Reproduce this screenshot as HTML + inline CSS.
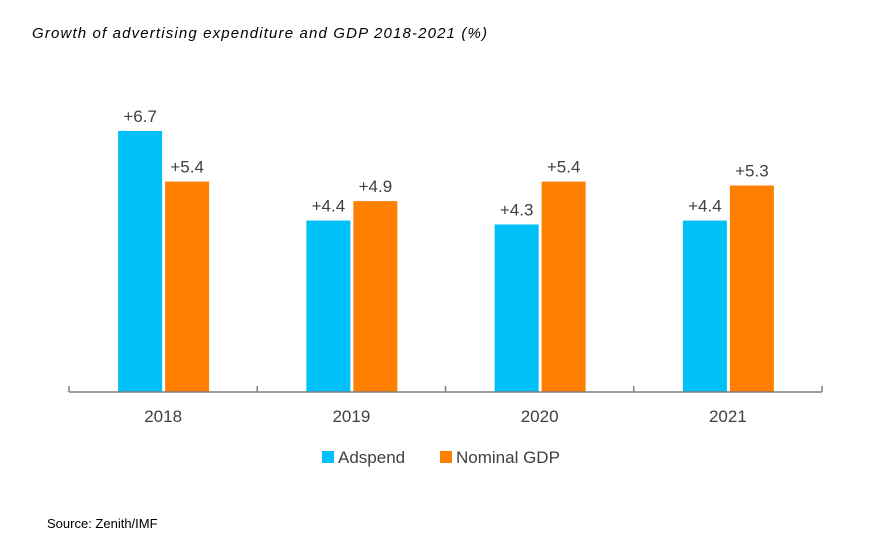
<!DOCTYPE html>
<html><head><meta charset="utf-8"><style>
body{margin:0;width:889px;height:551px;background:#fff;overflow:hidden;font-family:"Liberation Sans",sans-serif}
</style></head><body>
<svg width="889" height="551" xmlns="http://www.w3.org/2000/svg">
<text x="32" y="38" font-size="15" font-style="italic" fill="#000" textLength="455" lengthAdjust="spacing">Growth of advertising expenditure and GDP 2018-2021 (%)</text>
<g id="bars"></g>
<line x1="69" y1="392" x2="822" y2="392" stroke="#7f7f7f" stroke-width="1.5"/>
<g id="ticks"></g>
<rect x="322" y="451" width="12" height="12" fill="#00C0F8"/>
<text x="338" y="463" font-size="17" fill="#404040">Adspend</text>
<rect x="440" y="451" width="12" height="12" fill="#FF7F00"/>
<text x="456" y="463" font-size="17" fill="#404040">Nominal GDP</text>
<text x="47" y="528" font-size="13" fill="#000">Source: Zenith/IMF</text>
</svg>
<script>
const categories=["2018","2019","2020","2021"];
const adspend=[6.7,4.4,4.3,4.4];
const gdp=[5.4,4.9,5.4,5.3];
const NS="http://www.w3.org/2000/svg";
const x0=69,x1=822,base=392,scale=38.96;
const bw=(x1-x0)/categories.length;
const y=v=>base-v*scale;
const g=document.getElementById("bars"),tk=document.getElementById("ticks");
function mk(tag,attrs,parent){const e=document.createElementNS(NS,tag);for(const k in attrs)e.setAttribute(k,attrs[k]);parent.appendChild(e);return e;}
for(let i=0;i<=categories.length;i++){
  const t=mk("line",{x1:x0+i*bw,x2:x0+i*bw,y1:386,y2:392,stroke:"#7f7f7f","stroke-width":1.5},tk);
  
  
}
categories.forEach((c,i)=>{
  const cx=x0+bw*(i+0.5);
  [[adspend[i],cx-45,"#00C0F8","adspend"],[gdp[i],cx+2,"#FF7F00","gdp"]].forEach(([v,bx,col,nm])=>{
    const r=mk("rect",{x:bx,y:y(v),width:44,height:base-y(v),fill:col},g);
    
    
    const l=mk("text",{x:bx+22,y:y(v)-9,"font-size":17,fill:"#404040","text-anchor":"middle"},g);
    l.textContent="+"+v.toFixed(1);
    
    
  });
  const t=mk("text",{x:cx,y:422,"font-size":17,fill:"#404040","text-anchor":"middle"},g);
  t.textContent=c;
  
  
});
</script>
</body></html>
